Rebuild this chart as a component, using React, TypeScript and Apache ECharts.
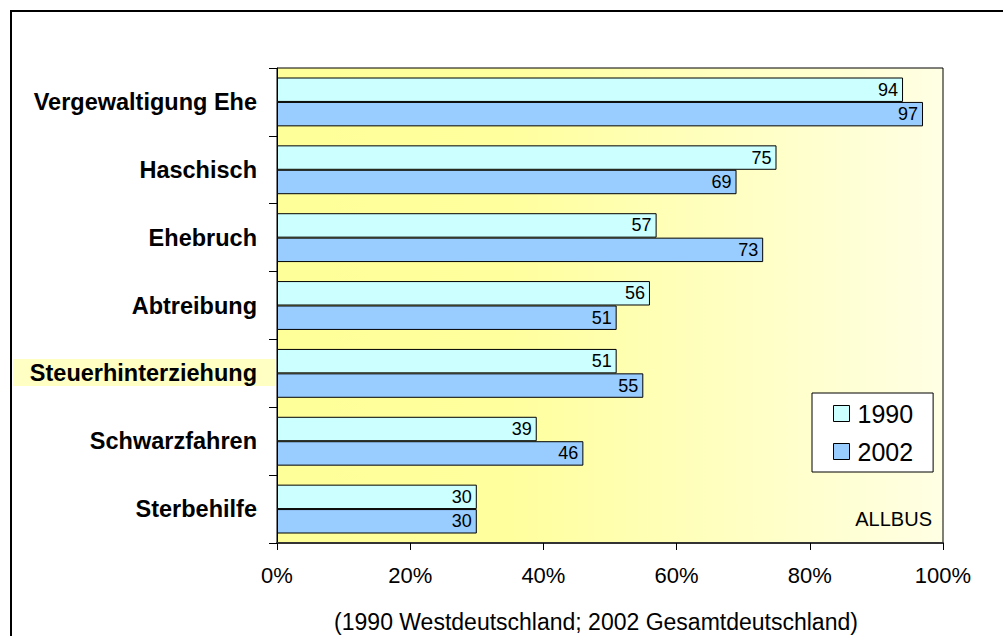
import React, { useEffect, useRef } from "react";
import * as echarts from "echarts";

const categories = [
  "Vergewaltigung Ehe",
  "Haschisch",
  "Ehebruch",
  "Abtreibung",
  "Steuerhinterziehung",
  "Schwarzfahren",
  "Sterbehilfe",
];
const values1990 = [94, 75, 57, 56, 51, 39, 30];
const values2002 = [97, 69, 73, 51, 55, 46, 30];
const seriesNames = ["1990", "2002"];
const xTicks = { min: 0, max: 100, interval: 20 };
const highlighted = "Steuerhinterziehung";
const axisTitle = "(1990 Westdeutschland; 2002 Gesamtdeutschland)";
const sourceLabel = "ALLBUS";

const FONT = 'Arial, "Liberation Sans", Helvetica, sans-serif';

export default function App() {
  const ref = useRef<HTMLDivElement>(null);
  useEffect(() => {
    if (!ref.current) return;
    const chart = echarts.init(ref.current, null, { renderer: "svg" });
    const hlIndex = categories.indexOf(highlighted);
    chart.setOption({
      animation: false,
      backgroundColor: "#ffffff",
      textStyle: { fontFamily: FONT, color: "#000" },
      grid: {
        left: 277,
        right: 60,
        top: 68,
        bottom: 93,
        show: true,
        borderColor: "#000",
        borderWidth: 1,
        backgroundColor: {
          type: "linear",
          x: 0,
          y: 0,
          x2: 1,
          y2: 0,
          colorStops: [
            { offset: 0, color: "#FFFF99" },
            { offset: 0.35, color: "#FFFF9E" },
            { offset: 1, color: "#FFFFE4" },
          ],
        },
      },
      legend: {
        orient: "vertical",
        left: 812,
        top: 393,
        icon: "rect",
        itemWidth: 16,
        itemHeight: 16,
        itemGap: 13,
        backgroundColor: "#fff",
        borderColor: "#000",
        borderWidth: 1,
        padding: [8, 20, 8, 21],
        selectedMode: false,
        itemStyle: { borderColor: "#000", borderWidth: 1 },
        textStyle: { fontSize: 25, color: "#000", fontFamily: FONT, padding: [0, 0, 0, 3] },
        data: seriesNames,
      },
      xAxis: {
        type: "value",
        min: xTicks.min,
        max: xTicks.max,
        interval: xTicks.interval,
        splitLine: { show: false },
        axisLine: { show: true, lineStyle: { color: "#333", width: 2 } },
        axisTick: { show: true, length: 7, lineStyle: { color: "#000" } },
        axisLabel: {
          formatter: "{value}%",
          fontSize: 22,
          color: "#000",
          fontFamily: FONT,
          margin: 21,
        },
      },
      yAxis: {
        type: "category",
        inverse: true,
        data: categories,
        axisLine: { show: true, lineStyle: { color: "#000", width: 1 } },
        axisTick: { show: true, length: 8, lineStyle: { color: "#000" } },
        axisLabel: {
          fontSize: 23.5,
          fontWeight: "bold",
          color: "#000",
          fontFamily: FONT,
          margin: 20,
        },
      },
      graphic: [
        {
          type: "rect",
          z: -10,
          silent: true,
          shape: { x: 11, y: 11, width: 1100, height: 800 },
          style: { fill: "none", stroke: "#000", lineWidth: 2 },
        },
        {
          type: "rect",
          z: -5,
          silent: true,
          shape: { x: 13, y: 359 + (hlIndex - 4) * 68, width: 262, height: 27 },
          style: { fill: "#FFFFC4" },
        },
        {
          type: "text",
          silent: true,
          x: 932,
          y: 519,
          style: {
            text: sourceLabel,
            fontSize: 20,
            fontFamily: FONT,
            fill: "#000",
            align: "right",
            verticalAlign: "middle",
          },
        },
        {
          type: "text",
          silent: true,
          x: 596,
          y: 622,
          style: {
            text: axisTitle,
            fontSize: 23,
            fontFamily: FONT,
            fill: "#000",
            align: "center",
            verticalAlign: "middle",
          },
        },
      ],
      series: [
        {
          name: seriesNames[0],
          type: "bar",
          data: values1990,
          barGap: "0%",
          barCategoryGap: "28%",
          itemStyle: { color: "#CCFFFF", borderColor: "#000", borderWidth: 1 },
          label: {
            show: true,
            position: "insideRight",
            distance: 5,
            fontSize: 18,
            color: "#000",
            fontFamily: FONT,
          },
        },
        {
          name: seriesNames[1],
          type: "bar",
          data: values2002,
          barGap: "0%",
          barCategoryGap: "28%",
          itemStyle: { color: "#99CCFF", borderColor: "#000", borderWidth: 1 },
          label: {
            show: true,
            position: "insideRight",
            distance: 5,
            fontSize: 18,
            color: "#000",
            fontFamily: FONT,
          },
        },
      ],
    });
    return () => chart.dispose();
  }, []);
  return (
    <div
      ref={ref}
      style={{ position: "fixed", left: 0, top: 0, width: 1003, height: 636 }}
    />
  );
}
